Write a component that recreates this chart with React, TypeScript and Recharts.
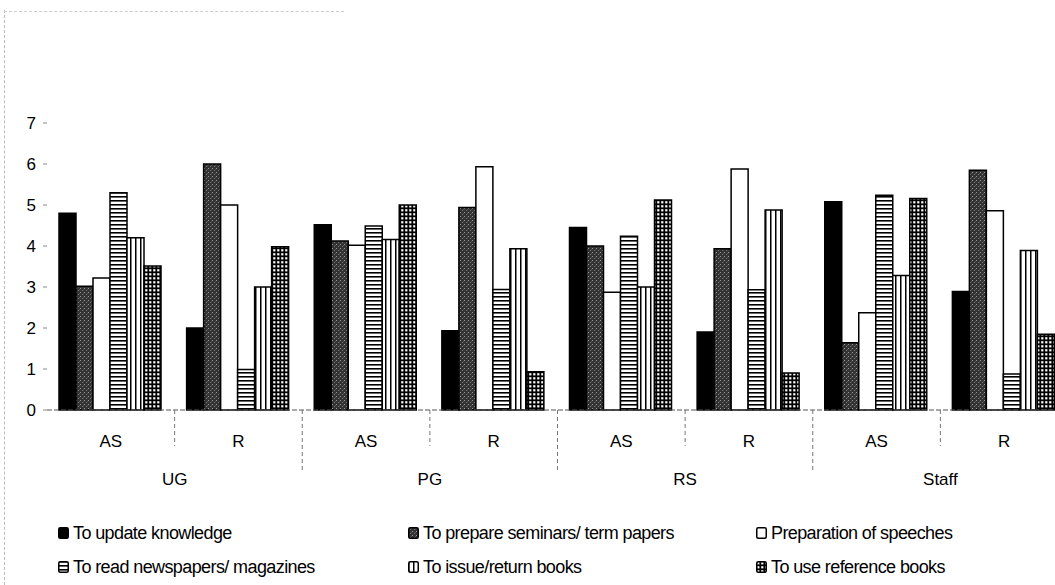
import React from 'react';
import { BarChart, Bar, XAxis, YAxis } from 'recharts';

const SUB_CATEGORIES = ['AS', 'R', 'AS', 'R', 'AS', 'R', 'AS', 'R'];
const GROUP_CATEGORIES = ['UG', 'UG', 'PG', 'PG', 'RS', 'RS', 'Staff', 'Staff'];
const Y_TICKS = [0, 1, 2, 3, 4, 5, 6, 7];

const SERIES_NAMES = [
  'To update knowledge',
  'To prepare seminars/ term papers',
  'Preparation of speeches',
  'To read newspapers/ magazines',
  'To issue/return books',
  'To use reference books',
];

const updateKnowledge = [4.8, 2.0, 4.52, 1.93, 4.45, 1.9, 5.08, 2.89];
const prepareSeminars = [3.02, 6.0, 4.12, 4.94, 4.0, 3.93, 1.64, 5.85];
const preparationSpeeches = [3.22, 5.0, 4.02, 5.93, 2.87, 5.88, 2.37, 4.86];
const readNewspapers = [5.3, 0.99, 4.49, 2.94, 4.24, 2.93, 5.24, 0.88];
const issueReturn = [4.2, 3.0, 4.16, 3.93, 3.0, 4.88, 3.28, 3.89];
const useReference = [3.51, 3.98, 5.0, 0.93, 5.12, 0.9, 5.16, 1.85];

const SERIES_VALUES = [updateKnowledge, prepareSeminars, preparationSpeeches, readNewspapers, issueReturn, useReference];
const SERIES_KEYS = ['s0', 's1', 's2', 's3', 's4', 's5'];
const SERIES_FILLS = ['#000', 'url(#pSeminar)', '#fff', 'url(#pHoriz)', 'url(#pVert)', 'url(#pGrid)'];

const data = SUB_CATEGORIES.map((sub, i) => {
  const row: any = { sub, group: GROUP_CATEGORIES[i] };
  SERIES_KEYS.forEach((k, j) => { row[k] = SERIES_VALUES[j][i]; });
  return row;
});

const FONT = '"Liberation Sans", Arial, sans-serif';
const CHART_W = 1080;
const CHART_H = 585;
const MARGIN = { top: 123, right: 12, bottom: 0, left: 0 };
const Y_W = 47;
const PLOT_W = CHART_W - MARGIN.left - MARGIN.right - Y_W;
const BAND = PLOT_W / data.length;

function CatTick(props: any) {
  const { x, y, payload, index } = props;
  const els: any[] = [];
  if (index > 0) {
    const bx = x - BAND / 2;
    const len = index % 2 === 0 ? 62 : 36;
    els.push(<line key="sep" x1={bx} x2={bx} y1={y} y2={y + len} stroke="#777" strokeWidth={1} strokeDasharray="4 3" />);
  }
  els.push(
    <text key="sub" x={x} y={y + 31} textAnchor="middle" dominantBaseline="central" fontSize={17} fontFamily={FONT} fill="#000">
      {payload.value}
    </text>
  );
  if (index % 2 === 1) {
    els.push(
      <text key="grp" x={x - BAND / 2} y={y + 69} textAnchor="middle" dominantBaseline="central" fontSize={17} fontFamily={FONT} fill="#000">
        {GROUP_CATEGORIES[index]}
      </text>
    );
  }
  return <g>{els}</g>;
}

const LEGEND_POS = [
  { left: 58, top: 533 },
  { left: 408, top: 533 },
  { left: 756, top: 533 },
  { left: 58, top: 567 },
  { left: 408, top: 567 },
  { left: 756, top: 567 },
];

export default function App() {
  return (
    <div style={{ position: 'absolute', left: 0, top: 0, width: 1055, height: 585, overflow: 'hidden', background: '#fff' }}>
      <svg width={0} height={0} style={{ position: 'absolute' }}>
        <defs>
          <pattern id="pSeminar" patternUnits="userSpaceOnUse" width={4} height={4}>
            <rect width={4} height={4} fill="#333" />
            <rect x={0} y={0} width={1} height={1} fill="#999" />
            <rect x={2} y={2} width={1} height={1} fill="#777" />
            <rect x={3} y={1} width={1} height={1} fill="#555" />
          </pattern>
          <pattern id="pHoriz" patternUnits="userSpaceOnUse" width={4} height={4}>
            <rect width={4} height={4} fill="#fff" />
            <rect x={0} y={0} width={4} height={1.6} fill="#000" />
          </pattern>
          <pattern id="pVert" patternUnits="userSpaceOnUse" width={5} height={5}>
            <rect width={5} height={5} fill="#fff" />
            <rect x={0} y={0} width={1.5} height={5} fill="#000" />
          </pattern>
          <pattern id="pGrid" patternUnits="userSpaceOnUse" width={4} height={4}>
            <rect width={4} height={4} fill="#000" />
            <rect x={1.2} y={1.2} width={2.2} height={2.2} fill="#fff" />
          </pattern>
        </defs>
      </svg>
      <div style={{ position: 'absolute', left: 4, top: 10, height: 575, borderLeft: '1px dashed #bbb' }} />
      <div style={{ position: 'absolute', left: 4, top: 11, width: 340, borderTop: '1px dashed #ccc' }} />
      <BarChart width={CHART_W} height={CHART_H} data={data} margin={MARGIN} barGap={0} barCategoryGap={12}>
        <XAxis
          dataKey="sub"
          interval={0}
          height={CHART_H - 410 - MARGIN.bottom}
          tickLine={false}
          tickSize={0}
          tickMargin={0}
          axisLine={{ stroke: '#555', strokeDasharray: '5 2' }}
          tick={<CatTick />}
        />
        <YAxis
          width={Y_W}
          domain={[0, 7]}
          ticks={Y_TICKS}
          interval={0}
          axisLine={false}
          tickSize={4}
          tickMargin={7}
          tickLine={{ stroke: '#888' }}
          tick={{ fontSize: 17, fill: '#000', fontFamily: FONT }}
        />
        {SERIES_KEYS.map((k, j) => (
          <Bar key={k} dataKey={k} name={SERIES_NAMES[j]} fill={SERIES_FILLS[j]} stroke="#000" strokeWidth={1.5} isAnimationActive={false} />
        ))}
      </BarChart>
      {SERIES_NAMES.map((name, j) => (
        <div
          key={name}
          style={{
            position: 'absolute',
            left: LEGEND_POS[j].left,
            top: LEGEND_POS[j].top - 11,
            height: 22,
            display: 'flex',
            alignItems: 'center',
            fontFamily: FONT,
            fontSize: 18,
            letterSpacing: -0.6,
            color: '#000',
            whiteSpace: 'nowrap',
          }}
        >
          <svg width={11} height={12} style={{ marginRight: 4 }}>
            <rect x={0.75} y={0.75} width={9.5} height={10.5} fill={SERIES_FILLS[j]} stroke="#000" strokeWidth={1.5} rx={1.5} />
          </svg>
          {name}
        </div>
      ))}
    </div>
  );
}
